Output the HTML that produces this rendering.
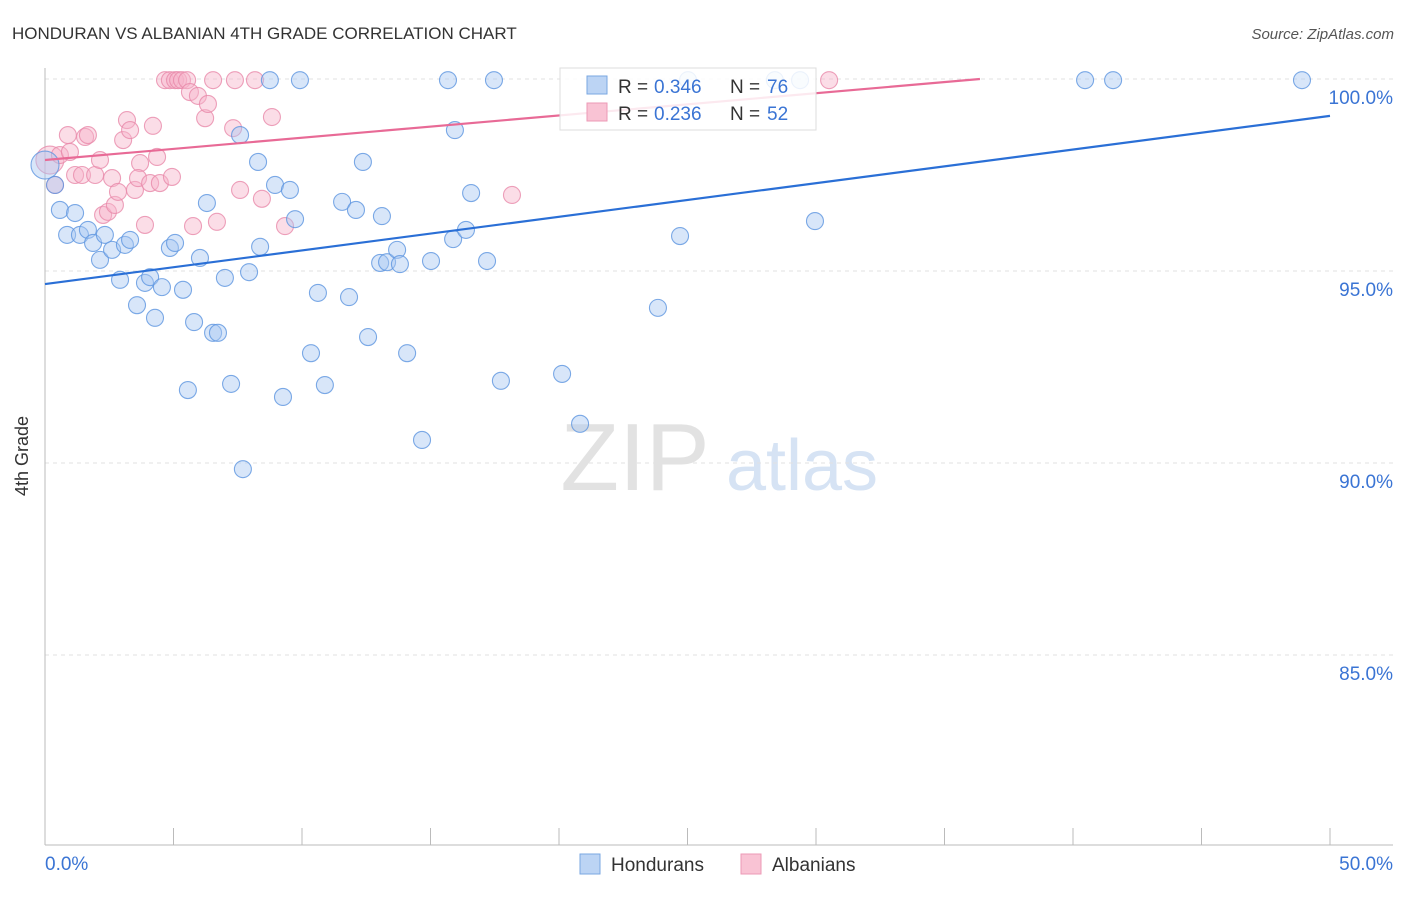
<!DOCTYPE html>
<html><head><meta charset="utf-8"><style>
body{margin:0;background:#fff;font-family:"Liberation Sans",sans-serif;}
svg text{font-family:"Liberation Sans",sans-serif;}
</style></head><body>
<svg id="chart" width="1406" height="892" xmlns="http://www.w3.org/2000/svg">
<text x="12" y="39" font-size="17" fill="#333">HONDURAN VS ALBANIAN 4TH GRADE CORRELATION CHART</text>
<text x="1394" y="39" font-size="15" fill="#555" text-anchor="end" font-style="italic">Source: ZipAtlas.com</text>
<g>
<text x="635" y="490" font-size="96" fill="#e2e2e2" text-anchor="middle" font-family="Liberation Serif,serif">ZIP</text>
<text x="802" y="490" font-size="72" fill="#d6e3f4" text-anchor="middle">atlas</text>
</g>
<g id="grid"></g>
<g id="axes"></g>
<g id="pts"></g>
<g id="trends"></g>
<g>
<rect x="560" y="68" width="256" height="62" fill="#fff" fill-opacity="0.85" stroke="#ddd"/>
<rect x="587" y="76" width="20" height="18" fill="#bcd4f4" stroke="#7aa7e2"/>
<rect x="587" y="103" width="20" height="18" fill="#f9c3d4" stroke="#ec9ab6"/>
<text x="618" y="93" font-size="19" fill="#333">R = </text>
<text x="654" y="93" font-size="19" fill="#3a74d4">0.346</text>
<text x="730" y="93" font-size="19" fill="#333">N = </text>
<text x="767" y="93" font-size="19" fill="#3a74d4">76</text>
<text x="618" y="120" font-size="19" fill="#333">R = </text>
<text x="654" y="120" font-size="19" fill="#3a74d4">0.236</text>
<text x="730" y="120" font-size="19" fill="#333">N = </text>
<text x="767" y="120" font-size="19" fill="#3a74d4">52</text>
</g>
<g>
<rect x="580" y="854" width="20" height="20" fill="#bcd4f4" stroke="#7aa7e2"/>
<text x="611" y="871" font-size="19" fill="#333">Hondurans</text>
<rect x="741" y="854" width="20" height="20" fill="#f9c3d4" stroke="#ec9ab6"/>
<text x="772" y="871" font-size="19" fill="#333">Albanians</text>
</g>
<text x="28" y="456" font-size="18" fill="#333" text-anchor="middle" transform="rotate(-90 28 456)">4th Grade</text>
</svg>
<script>
const yTicks=[100,95,90,85];
const yTickLabels=["100.0%","95.0%","90.0%","85.0%"];
const xTicks=[0,5,10,15,20,25,30,35,40,45,50];
const xEndLabels=["0.0%","50.0%"];
const hondX=[0.0,0.39,0.58,1.17,0.86,1.36,1.67,1.87,2.33,2.14,2.61,3.11,3.31,2.92,3.89,4.09,4.55,3.58,4.28,4.86,5.06,5.37,6.03,5.80,6.54,6.73,5.56,7.24,7.70,7.00,7.94,8.37,6.30,7.59,8.29,8.95,9.53,9.73,8.75,9.92,10.62,10.35,9.26,10.89,11.83,11.56,12.10,12.57,12.37,13.11,13.04,13.31,13.70,13.81,14.09,14.67,15.02,15.68,15.95,15.88,16.38,16.58,17.20,17.47,17.74,20.12,20.82,23.85,24.71,25.02,28.40,29.38,29.96,40.47,41.56,48.91];
const hondY=[97.76,97.24,96.59,96.51,95.94,95.94,96.07,95.73,95.94,95.29,95.55,95.68,95.81,94.77,94.69,94.84,94.58,94.11,93.78,95.60,95.73,94.51,95.34,93.67,93.39,93.39,91.90,92.06,89.84,94.82,94.97,95.63,96.77,98.54,97.84,97.24,97.11,96.35,99.97,99.97,94.43,92.86,91.72,92.03,94.32,96.80,96.59,93.28,97.84,96.43,95.21,95.23,95.55,95.18,92.86,90.60,95.26,99.97,98.67,95.83,96.07,97.03,95.26,99.97,92.14,92.32,91.02,94.04,95.91,99.97,99.97,99.97,96.30,99.97,99.97,99.97];
const albX=[0.19,0.39,0.58,0.89,0.97,1.17,1.44,1.56,1.67,1.95,2.14,2.26,2.45,2.61,2.72,2.84,3.04,3.19,3.31,3.50,3.70,3.62,3.89,4.09,4.20,4.36,4.47,4.67,4.86,4.94,5.06,5.18,5.33,5.53,5.64,5.76,5.95,6.23,6.34,6.54,6.69,7.32,7.39,7.59,8.17,8.44,8.83,9.34,18.17,30.51];
const albY=[97.89,97.24,98.02,98.54,98.10,97.50,97.50,98.49,98.54,97.50,97.89,96.46,96.54,97.42,96.72,97.06,98.41,98.93,98.67,97.11,97.81,97.42,96.20,97.29,98.78,97.97,97.29,99.97,99.97,97.45,99.97,99.97,99.97,99.97,99.66,96.17,99.56,98.98,99.35,99.97,96.28,98.72,99.97,97.11,99.97,96.88,99.01,96.17,96.98,99.97];
const hondTrend=[94.66,99.04];
const albTrend=[97.89,0.058];
const NS="http://www.w3.org/2000/svg";
const X=v=>45+v/50*1285;
const Y=v=>79+(100-v)*38.4;
function mk(tag,attrs,parent){const e=document.createElementNS(NS,tag);for(const k in attrs)e.setAttribute(k,attrs[k]);parent.appendChild(e);return e;}
const grid=document.getElementById('grid'),axes=document.getElementById('axes'),pts=document.getElementById('pts'),tr=document.getElementById('trends');
yTicks.forEach((t,i)=>{
 const l=mk('line',{x1:45,x2:1393,y1:Y(t),y2:Y(t),stroke:'#e2e2e2','stroke-dasharray':'4,4'},grid);
 
 
 const tx=mk('text',{x:1393,y:Y(t)+25,'font-size':19,fill:'#3a74d4','text-anchor':'end'},axes);tx.textContent=yTickLabels[i];
 
 
});
const ya=mk('line',{x1:45,x2:45,y1:68,y2:845,stroke:'#bbb'},axes);


const xa=mk('line',{x1:45,x2:1393,y1:845,y2:845,stroke:'#bbb'},axes);


xTicks.forEach(t=>{const l=mk('line',{x1:X(t),x2:X(t),y1:828,y2:845,stroke:'#bbb'},axes);
 
 });
[[0,'start',45],[50,'end',1393]].forEach((a,i)=>{const t=mk('text',{x:a[2],y:870,'font-size':19,fill:'#3a74d4','text-anchor':a[1]},axes);t.textContent=xEndLabels[i];
 
 });
function dots(xs,ys,fill,stroke,name){xs.forEach((x,i)=>{const big=i===0;
 const c=mk('circle',{cx:X(x),cy:Y(ys[i]),r:big?14:8.5,fill:fill,'fill-opacity':0.45,stroke:stroke,'stroke-opacity':0.8,'stroke-width':1.1},pts);
 
 });}
dots(albX,albY,'#f7b3c9','#e88aaa','albanian-point');
dots(hondX,hondY,'#a9c8f2','#5d95e0','honduran-point');
const bl=mk('line',{x1:X(0),y1:Y(hondTrend[0]),x2:X(50),y2:Y(hondTrend[1]),stroke:'#2a6fd6','stroke-width':2.2},tr);


const xEnd=(100-albTrend[0])/albTrend[1];
const pl=mk('line',{x1:X(0),y1:Y(albTrend[0]),x2:X(xEnd),y2:Y(100),stroke:'#e86a96','stroke-width':2.2},tr);


</script>
</body></html>
